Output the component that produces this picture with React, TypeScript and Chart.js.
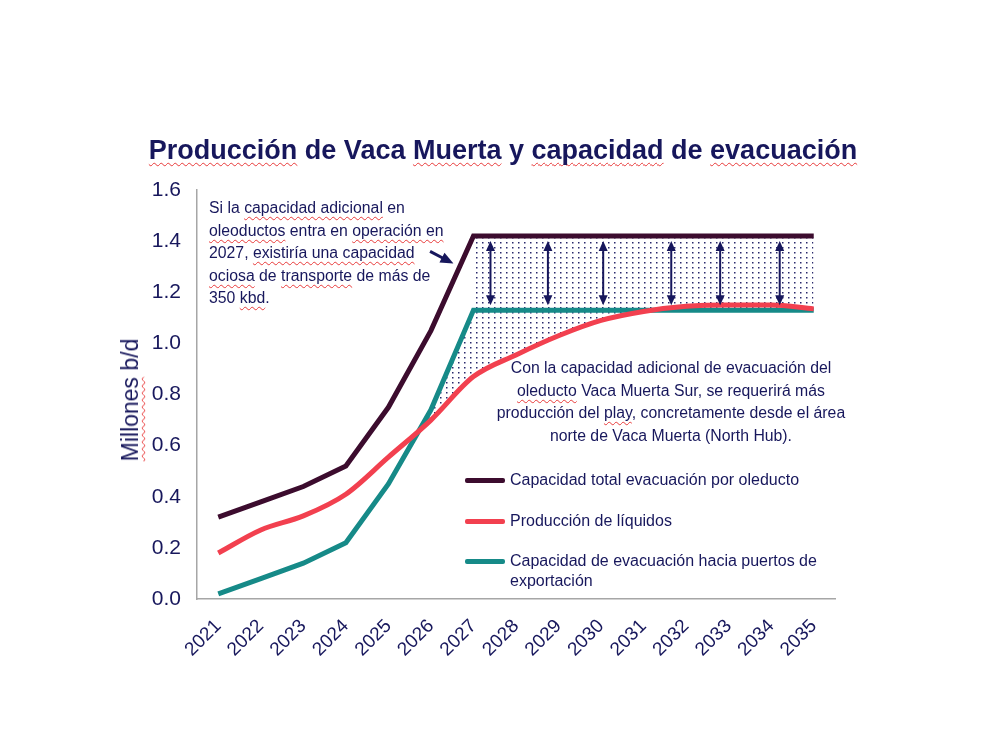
import React, { useEffect, useRef } from 'react';
import { Chart, registerables } from 'chart.js';

Chart.register(...registerables);

const years = ['2021', '2022', '2023', '2024', '2025', '2026', '2027', '2028', '2029', '2030', '2031', '2032', '2033', '2034', '2035'];
const capacidadTotal = [0.32, 0.38, 0.44, 0.52, 0.75, 1.05, 1.42, 1.42, 1.42, 1.42, 1.42, 1.42, 1.42, 1.42, 1.42];
const produccion = [0.18, 0.27, 0.325, 0.41, 0.555, 0.70, 0.87, 0.955, 1.03, 1.09, 1.125, 1.145, 1.15, 1.15, 1.135];
const capacidadExportacion = [0.02, 0.08, 0.14, 0.22, 0.45, 0.74, 1.13, 1.13, 1.13, 1.13, 1.13, 1.13, 1.13, 1.13, 1.13];
const inicioNuevaCapacidad = 6; // index of 2027
const flechasIdx = [6.4, 7.75, 9.05, 10.65, 11.8, 13.2];

const NAVY = '#17175c';
const DARK = '#3c0c2e';
const RED = '#f2404f';
const TEAL = '#168a88';
const FONT = '"Liberation Sans", Arial, sans-serif';

Chart.defaults.font.family = FONT;

function makeDots(): CanvasPattern | string {
  const c = document.createElement('canvas');
  c.width = 6;
  c.height = 5;
  const g = c.getContext('2d');
  if (!g) return 'rgba(0,0,0,0)';
  g.fillStyle = '#2a2a6c';
  g.fillRect(2, 2, 1.5, 1.5);
  return g.createPattern(c, 'repeat') || 'rgba(0,0,0,0)';
}

function arrowHead(ctx: CanvasRenderingContext2D, x: number, y: number, angle: number, len: number, w: number) {
  ctx.save();
  ctx.translate(x, y);
  ctx.rotate(angle);
  ctx.beginPath();
  ctx.moveTo(0, 0);
  ctx.lineTo(-len, -w / 2);
  ctx.lineTo(-len, w / 2);
  ctx.closePath();
  ctx.fill();
  ctx.restore();
}

const arrowsPlugin = {
  id: 'gapArrows',
  afterDatasetsDraw(chart: any) {
    const { ctx, scales } = chart;
    const x = scales.x;
    const y = scales.y;
    ctx.save();
    ctx.strokeStyle = NAVY;
    ctx.fillStyle = NAVY;
    ctx.lineWidth = 2;
    const top = y.getPixelForValue(capacidadTotal[inicioNuevaCapacidad]) + 5;
    const bot = y.getPixelForValue(capacidadExportacion[inicioNuevaCapacidad]) - 5;
    flechasIdx.forEach((i) => {
      const px = x.getPixelForValue(i);
      ctx.beginPath();
      ctx.moveTo(px, top + 6);
      ctx.lineTo(px, bot - 6);
      ctx.stroke();
      arrowHead(ctx, px, top, -Math.PI / 2, 10, 9);
      arrowHead(ctx, px, bot, Math.PI / 2, 10, 9);
    });
    // pointer from note to line
    const sx = x.getPixelForValue(4.98);
    const sy = y.getPixelForValue(1.36);
    const ex = x.getPixelForValue(5.53);
    const ey = y.getPixelForValue(1.312);
    const ang = Math.atan2(ey - sy, ex - sx);
    ctx.lineWidth = 3;
    ctx.beginPath();
    ctx.moveTo(sx, sy);
    ctx.lineTo(ex - Math.cos(ang) * 10, ey - Math.sin(ang) * 10);
    ctx.stroke();
    arrowHead(ctx, ex, ey, ang, 13, 11);
    ctx.restore();
  },
};

const wavy: React.CSSProperties = {
  textDecorationLine: 'underline',
  textDecorationStyle: 'wavy',
  textDecorationColor: '#e83a3a',
  textDecorationThickness: '1px',
  textUnderlineOffset: '3px',
  textDecorationSkipInk: 'none',
};

const W = (p: { children: React.ReactNode }) => <span style={wavy}>{p.children}</span>;

const body: React.CSSProperties = {
  position: 'absolute',
  color: NAVY,
  fontFamily: FONT,
  fontSize: '15.8px',
  lineHeight: '22.6px',
  whiteSpace: 'nowrap',
};

const legendItems = [
  { color: DARK, y: 480, lines: ['Capacidad total evacuación por oleducto'] },
  { color: RED, y: 521, lines: ['Producción de líquidos'] },
  { color: TEAL, y: 561, lines: ['Capacidad de evacuación hacia puertos de', 'exportación'] },
];

export default function App() {
  const ref = useRef<HTMLCanvasElement | null>(null);

  useEffect(() => {
    if (!ref.current) return;
    const dots = makeDots();
    const transparent = 'rgba(0,0,0,0)';
    const chart = new Chart(ref.current, {
      type: 'line',
      data: {
        labels: years,
        datasets: [
          {
            label: 'Capacidad total evacuación por oleducto',
            data: capacidadTotal,
            borderColor: DARK,
            borderWidth: 5,
            pointRadius: 0,
            tension: 0,
            fill: false,
            order: 1,
          },
          {
            label: 'Producción de líquidos',
            data: produccion,
            borderColor: RED,
            borderWidth: 5,
            pointRadius: 0,
            cubicInterpolationMode: 'monotone',
            fill: false,
            order: 0,
          },
          {
            label: 'Capacidad de evacuación hacia puertos de exportación',
            data: capacidadExportacion,
            borderColor: TEAL,
            borderWidth: 5,
            pointRadius: 0,
            tension: 0,
            fill: { target: 1, above: dots, below: transparent },
            order: 2,
          },
          {
            label: 'capacidad ociosa',
            data: capacidadTotal.map((v, i) => (i >= inicioNuevaCapacidad ? v : null)),
            borderColor: transparent,
            borderWidth: 0,
            pointRadius: 0,
            tension: 0,
            fill: { target: 2, above: dots, below: transparent },
            order: 3,
          },
        ] as any,
      },
      options: {
        animation: false,
        responsive: false,
        devicePixelRatio: 1,
        layout: { padding: { left: 0, top: 190, right: 157, bottom: 75 } },
        plugins: { legend: { display: false }, tooltip: { enabled: false } },
        scales: {
          x: {
            offset: true,
            grid: { display: false, drawTicks: false },
            border: { display: true, color: '#a6a6a6', width: 1.5 },
            ticks: {
              color: NAVY,
              font: { size: 19 },
              minRotation: 45,
              maxRotation: 45,
              autoSkip: false,
              padding: 16,
            },
            afterFit: (s: any) => {
              s.height = 70;
            },
          },
          y: {
            min: 0,
            max: 1.6,
            grid: { display: false, drawTicks: false },
            border: { display: true, color: '#a6a6a6', width: 1.5 },
            ticks: {
              stepSize: 0.2,
              color: NAVY,
              font: { size: 21 },
              padding: 16,
              callback: (v: any) => Number(v).toFixed(1),
            },
            afterFit: (s: any) => {
              s.width = 197;
            },
          },
        },
      } as any,
      plugins: [arrowsPlugin],
    });
    return () => chart.destroy();
  }, []);

  return (
    <div style={{ position: 'fixed', left: 0, top: 0, width: 992, height: 744, background: '#fff', overflow: 'hidden' }}>
      <canvas ref={ref} width={992} height={744} style={{ position: 'absolute', left: 0, top: 0 }} />
      <div
        style={{
          position: 'absolute',
          left: 103,
          width: 800,
          top: 135,
          textAlign: 'center',
          color: NAVY,
          fontFamily: FONT,
          fontWeight: 'bold',
          fontSize: '27px',
          lineHeight: '30px',
          whiteSpace: 'nowrap',
        }}
      >
        <W>Producción</W> de Vaca <W>Muerta</W> y <W>capacidad</W> de <W>evacuación</W>
      </div>
      <div
        style={{
          position: 'absolute',
          left: 130,
          top: 400,
          transform: 'translate(-50%, -50%) rotate(-90deg)',
          color: NAVY,
          fontFamily: FONT,
          fontSize: '23px',
          lineHeight: '26px',
          whiteSpace: 'nowrap',
        }}
      >
        <W>Millones</W> b/d
      </div>
      <div style={{ ...body, left: 209, top: 197, lineHeight: '22.5px' }}>
        Si la <W>capacidad adicional</W> en
        <br />
        <W>oleoductos</W> entra en <W>operación en</W>
        <br />
        2027, <W>existiría una capacidad</W>
        <br />
        <W>ociosa</W> de <W>transporte</W> de más de
        <br />
        350 <W>kbd</W>.
      </div>
      <div style={{ ...body, left: 471, width: 400, top: 357, textAlign: 'center' }}>
        Con la capacidad adicional de evacuación del
        <br />
        <W>oleducto</W> Vaca Muerta Sur, se requerirá más
        <br />
        producción del <W>play</W>, concretamente desde el área
        <br />
        norte de Vaca Muerta (North Hub).
      </div>
      {legendItems.map((it) => (
        <React.Fragment key={it.lines[0]}>
          <div style={{ position: 'absolute', left: 465, top: it.y - 2.5, width: 40, height: 5, background: it.color, borderRadius: 2 }} />
          <div style={{ ...body, left: 510, top: it.y - 10, fontSize: '16px', lineHeight: '19.5px' }}>
            {it.lines.map((l, i) => (
              <React.Fragment key={l}>
                {i > 0 && <br />}
                {l}
              </React.Fragment>
            ))}
          </div>
        </React.Fragment>
      ))}
    </div>
  );
}
